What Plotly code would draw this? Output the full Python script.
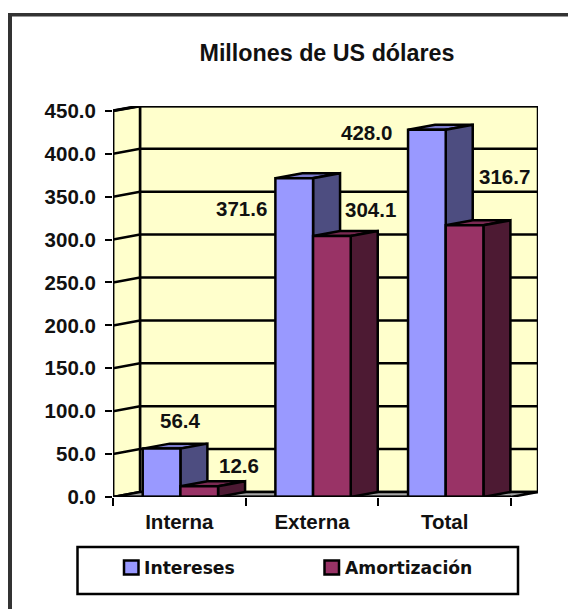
import plotly.graph_objects as go

# Debt service figures, millions of US dollars
categories = ["Interna", "Externa", "Total"]
intereses = [56.4, 371.6, 428.0]
amortizacion = [12.6, 304.1, 316.7]
y_ticks = [0, 50, 100, 150, 200, 250, 300, 350, 400, 450]
series_names = ["Intereses", "Amortización"]

# Drawing constants for the oblique 3D look, in axis units
DX = 0.2035
DY = 5.8
BAR_START = 0.224
BAR_W = 0.284
X_MAX = 3.2035
Y_MAX = 455.7
LW = 2.5
LABEL = dict(family="Liberation Sans", size=20.5, color="#111111")
LEGEND_FONT = dict(family="DejaVu Sans", size=17.2, color="#111111")

fig = go.Figure()


def poly(xs, ys, fill, width=LW, color="black"):
    fig.add_trace(go.Scatter(
        x=xs + xs[:1], y=ys + ys[:1], mode="lines", fill="toself", fillcolor=fill,
        line=dict(color=color, width=width), showlegend=False, hoverinfo="skip",
        cliponaxis=False,
    ))


def seg(xs, ys, width=LW):
    fig.add_trace(go.Scatter(
        x=xs, y=ys, mode="lines", line=dict(color="black", width=width),
        showlegend=False, hoverinfo="skip", cliponaxis=False,
    ))


# Walls and floor
top = y_ticks[-1]
poly([DX, X_MAX, X_MAX, DX], [DY, DY, top + DY, top + DY], "#FFFFCC")
poly([0, DX, DX, 0], [0, DY, top + DY, top], "#FFFFCC")
poly([0, 3, X_MAX, DX], [0, 0, DY, DY], "#A6A6A6")

# Gridlines along the side wall and the back wall
for v in y_ticks[1:]:
    seg([0, DX, X_MAX], [v, v + DY, v + DY], LW if v < top else 3.0)


def bar(x0, v, front, side, roof):
    x1 = x0 + BAR_W
    poly([x0, x1, x1 + DX, x0 + DX], [v, v, v + DY, v + DY], roof)
    poly([x1, x1 + DX, x1 + DX, x1], [0, DY, v + DY, v], side)
    poly([x0, x1, x1, x0], [0, 0, v, v], front)


for i in range(len(categories)):
    bar(i + BAR_START, intereses[i], "#9999FF", "#4D4D80", "#7A7ACC")
    bar(i + BAR_START + BAR_W, amortizacion[i], "#993366", "#4D1A33", "#7A2952")

# Front edges of the axes
seg([0, 3], [0, 0], 3.0)
seg([0, 0], [0, top], LW)

# Hand-placed value labels: pixel offsets from each bar's top centre
int_shift = [(18.5, 28.6), (-52.5, -30), (-60, -3)]
amo_shift = [(39.5, 21), (38.5, 27), (39.5, 48.6)]
annotations = []
for i in range(len(categories)):
    for j, (vals, shifts) in enumerate(((intereses, int_shift), (amortizacion, amo_shift))):
        annotations.append(dict(
            x=i + BAR_START + BAR_W * (j + 0.5), y=vals[i], xref="x", yref="y",
            text=f"<b>{vals[i]:.1f}</b>", showarrow=False, font=LABEL,
            xshift=shifts[i][0], yshift=shifts[i][1],
        ))

PX_L, PX_T, PX_W, PX_H = 113, 106, 425, 391


def px(x):
    return (x - PX_L) / PX_W


def py(y):
    return 1 - (y - PX_T) / PX_H


shapes = [
    # Outer frame: top and left rules
    dict(type="rect", xref="paper", yref="paper", x0=px(8), x1=px(568), y0=py(16.5), y1=py(13),
         fillcolor="#333333", line_width=0, layer="below"),
    dict(type="rect", xref="paper", yref="paper", x0=px(8), x1=px(12), y0=py(609), y1=py(13),
         fillcolor="#333333", line_width=0, layer="below"),
    # Legend box
    dict(type="rect", xref="paper", yref="paper", x0=px(77.5), x1=px(518), y0=py(594), y1=py(547),
         line=dict(color="black", width=2.5), fillcolor="white", layer="below"),
]

# Legend keys and names
for name, col, key_x in zip(series_names, ("#9999FF", "#993366"), (124, 324.5)):
    shapes.append(dict(type="rect", xref="paper", yref="paper", x0=px(key_x), x1=px(key_x + 14.5),
                       y0=py(574.5), y1=py(560.5), fillcolor=col,
                       line=dict(color="black", width=2.5)))
    annotations.append(dict(x=px(key_x + 18), y=py(568), xref="paper", yref="paper",
                            xanchor="left", yanchor="middle", text=f"<b>{name}</b>",
                            showarrow=False, font=LEGEND_FONT))

fig.update_layout(
    width=568, height=609,
    margin=dict(l=PX_L, r=568 - PX_L - PX_W, t=PX_T, b=609 - PX_T - PX_H, pad=0),
    autosize=False,
    paper_bgcolor="white", plot_bgcolor="white", showlegend=False,
    title=dict(text="<b>Millones de US dólares</b>", x=327 / 568, xanchor="center",
               y=1 - 53 / 609, yanchor="middle",
               font=dict(family="Liberation Sans", size=23.3, color="#111111")),
    xaxis=dict(
        range=[0, X_MAX], showgrid=False, zeroline=False, showline=False,
        tickvals=[0.5, 1.5, 2.5], ticktext=[f"<b>{c}</b>" for c in categories],
        ticks="", ticklen=0, tickfont=LABEL, ticklabelstandoff=10,
        minor=dict(tickvals=[0, 1, 2, 3], ticks="outside", ticklen=8, tickwidth=2,
                   tickcolor="black", showgrid=False),
    ),
    yaxis=dict(
        range=[0, Y_MAX], showgrid=False, zeroline=False, showline=False,
        tickvals=y_ticks, ticktext=[f"<b>{v:.1f}</b>" for v in y_ticks],
        ticks="outside", ticklen=7, tickwidth=2, tickcolor="black", tickfont=LABEL,
        ticklabelstandoff=5,
    ),
    annotations=annotations,
    shapes=shapes,
)

fig.write_html("out.html", config=dict(displayModeBar=False))
